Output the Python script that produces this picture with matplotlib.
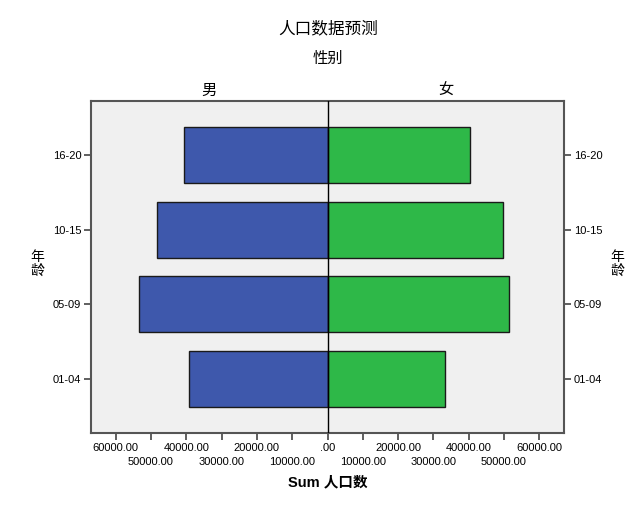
import numpy as np
import matplotlib
matplotlib.use('Agg')
import matplotlib.pyplot as plt
from matplotlib.ticker import FuncFormatter

plt.rcParams['font.family'] = ['Liberation Sans', 'Noto Sans CJK SC']

# age groups, bottom to top
age_groups = ['01-04', '05-09', '10-15', '16-20']
male = [39200, 53300, 48200, 40600]
female = [33200, 51500, 49600, 40500]

male_color = '#3E58AC'
female_color = '#2EB848'

fig = plt.figure(figsize=(6.44, 5.15), dpi=100)
ax = fig.add_axes([0.1413, 0.1592, 0.7345, 0.6447])
ax.set_facecolor('#F0F0F0')

y = np.arange(len(age_groups))
ax.barh(y, -np.array(male), height=0.75, color=male_color,
        edgecolor='#1a1a1a', linewidth=1.0)
ax.barh(y, female, height=0.75, color=female_color,
        edgecolor='#1a1a1a', linewidth=1.0)
ax.axvline(0, color='black', linewidth=1.0, zorder=3)

ax.set_xlim(-67000, 67000)
ax.set_ylim(-0.72, 3.72)

# y ticks on both sides
ax.set_yticks(y)
ax.set_yticklabels(age_groups)
ax.tick_params(axis='y', which='major', left=True, right=True,
               labelleft=True, labelright=True, direction='out',
               length=5, width=1.2, color='#444444', labelsize=8, pad=2)


def fmt(v, pos):
    v = abs(v)
    if v < 1:
        return '.00'
    return '%.2f' % v


# staggered x tick labels: even multiples on first row, odd ones below
ax.set_xticks([-60000, -40000, -20000, 0, 20000, 40000, 60000])
ax.set_xticks([-50000, -30000, -10000, 10000, 30000, 50000], minor=True)
ax.xaxis.set_major_formatter(FuncFormatter(fmt))
ax.xaxis.set_minor_formatter(FuncFormatter(fmt))
ax.tick_params(axis='x', which='both', direction='out', length=5,
               width=1.2, color='#444444', labelsize=8)
ax.tick_params(axis='x', which='major', pad=2)
ax.tick_params(axis='x', which='minor', pad=12)

for s in ax.spines.values():
    s.set_color('#555555')
    s.set_linewidth(1.5)

ax.set_xlabel('Sum 人口数', fontsize=10.5, fontweight='bold', labelpad=6)

# titles and panel headers
fig.text(0.509, 1 - 28 / 515, '人口数据预测', ha='center', va='center', fontsize=12)
fig.text(0.509, 1 - 59 / 515, '性别', ha='center', va='center', fontsize=11)
ax.text(0.25, 1.01, '男', transform=ax.transAxes, ha='center', va='bottom', fontsize=11)
ax.text(0.75, 1.01, '女', transform=ax.transAxes, ha='center', va='bottom', fontsize=11)

fig.text(37 / 644, 1 - 264 / 515, '年\n龄', ha='center', va='center',
         fontsize=10, linespacing=1.0)
fig.text(617 / 644, 1 - 264 / 515, '年\n龄', ha='center', va='center',
         fontsize=10, linespacing=1.0)

fig.savefig('out.png', dpi=100)
